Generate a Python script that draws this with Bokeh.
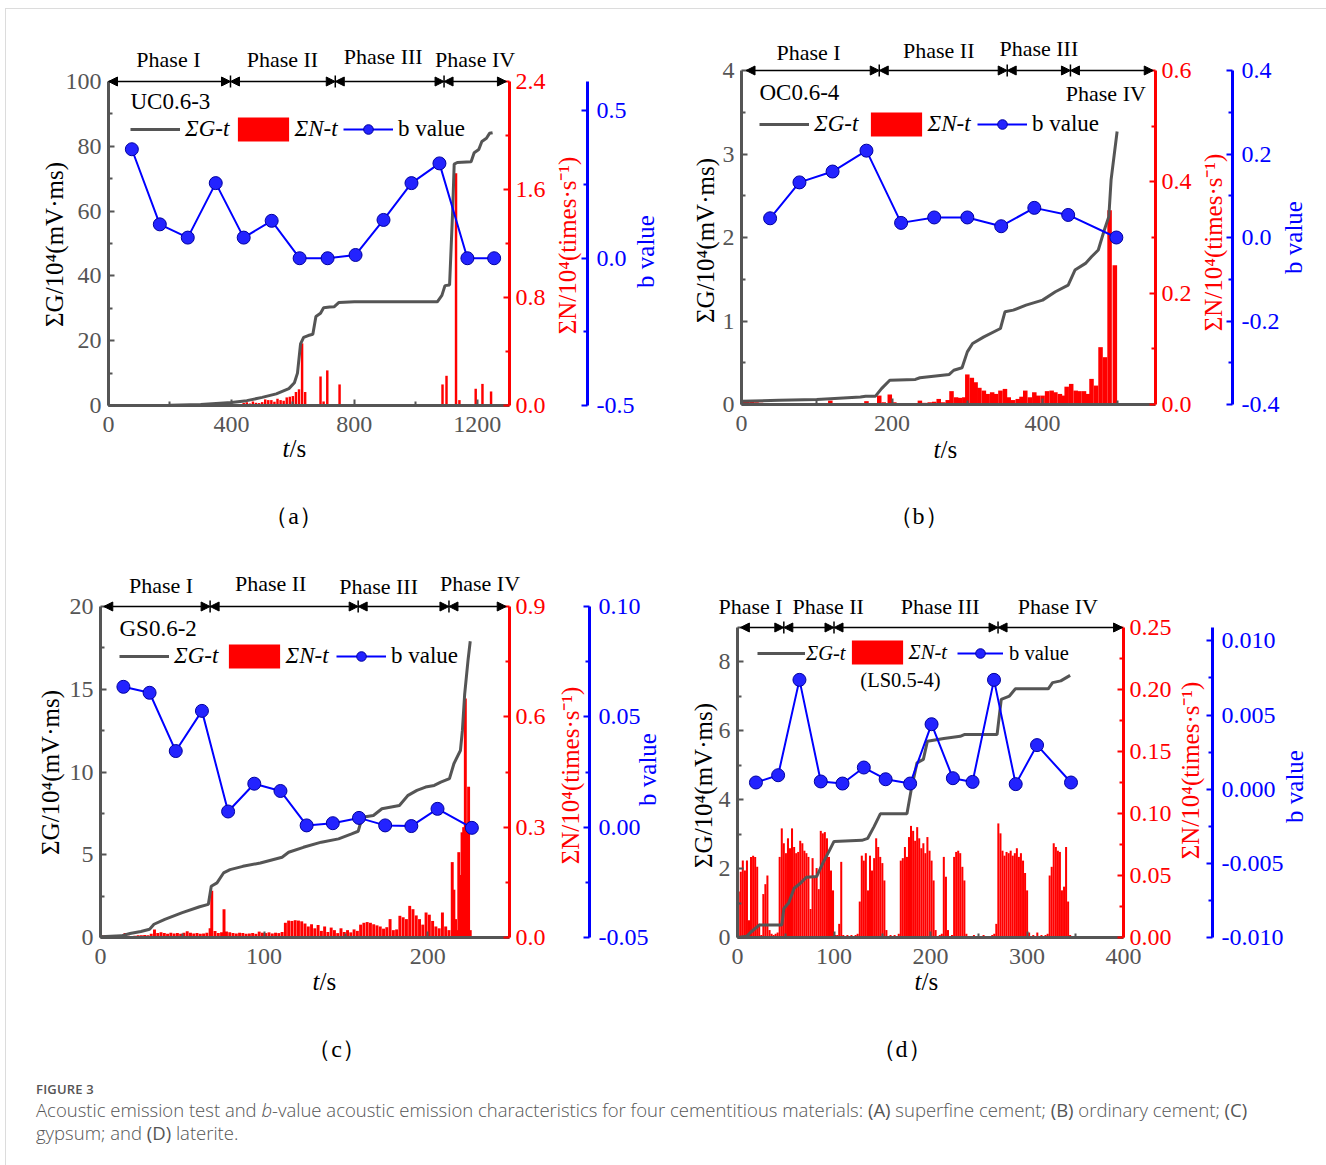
import math
from bokeh.plotting import figure
from bokeh.models import (Range1d, LinearAxis, FixedTicker, PrintfTickFormatter, Legend,
                          LegendItem, Label, Arrow, NormalHead, Whisker, ColumnDataSource, Div, Grid)
from bokeh.layouts import row, column
from bokeh.embed import file_html
from bokeh.resources import INLINE

SERIF = "Liberation Serif"
GRAY = "#555555"

phase_names = ["Phase I", "Phase II", "Phase III", "Phase IV"]

# ---------------- Panel (a) UC0.6-3 ----------------
ga_t = [0, 100, 200, 300, 400, 450, 500, 546, 587, 605, 615, 625, 635, 650, 665, 675, 690, 700, 720, 735,
        750, 800, 900, 1000, 1070, 1085, 1095, 1110, 1120, 1125, 1135, 1180, 1190, 1205, 1215, 1230, 1240, 1250]
ga_v = [0, 0, 0.1, 0.3, 0.9, 1.5, 2.5, 3.6, 5.2, 7, 10, 19, 21, 21.6, 22, 27.5, 28.5, 30.2, 30.4, 30.5,
        31.8, 32, 32, 32, 32, 34, 37, 37.2, 60, 74.5, 75, 75.2, 78, 79, 81.5, 82.5, 84, 84.2]
na_t = [280, 300, 320, 340, 360, 380, 400, 420, 440, 450, 460, 470, 480, 490, 500, 510, 520, 530, 540, 550,
        560, 570, 580, 590, 600, 610, 620, 630, 640, 690, 700, 712, 752, 1087, 1100, 1131, 1142, 1195, 1217, 1245]
na_v = [0.004, 0.006, 0.005, 0.008, 0.006, 0.01, 0.008, 0.012, 0.018, 0.025, 0.015, 0.03, 0.02, 0.018, 0.025,
        0.045, 0.04, 0.04, 0.028, 0.05, 0.04, 0.035, 0.06, 0.065, 0.07, 0.1, 0.12, 0.46, 0.1, 0.215, 0.03, 0.26,
        0.156, 0.156, 0.22, 1.72, 0.04, 0.124, 0.16, 0.104]
ba_t = [76, 167, 258, 349, 440, 531, 622, 713, 804, 895, 986, 1077, 1168, 1255]
ba_v = [0.37, 0.115, 0.07, 0.255, 0.07, 0.127, 0.0, 0.0, 0.011, 0.13, 0.255, 0.322, 0.0, 0.0]
pa_bounds = [0, 397, 738, 1092, 1295]
pa_label_x = [195, 566, 894, 1193]

# ---------------- Panel (b) OC0.6-4 ----------------
gb_t = [0, 50, 100, 118, 158, 165, 178, 186, 197, 231, 237, 276, 282, 293, 300, 307, 322, 344, 350, 361,
        378, 400, 417, 434, 443, 457, 465, 474, 482, 488, 491, 499]
gb_v = [0.04, 0.05, 0.06, 0.07, 0.09, 0.1, 0.1, 0.19, 0.29, 0.3, 0.32, 0.36, 0.41, 0.44, 0.63, 0.73, 0.81,
        0.91, 1.11, 1.13, 1.19, 1.25, 1.35, 1.43, 1.61, 1.69, 1.77, 1.85, 2.09, 2.25, 2.69, 3.27]
nb_t = [3, 8, 14, 20, 26, 40, 60, 80, 100, 118, 140, 166, 183, 189, 197, 203, 220, 237, 243, 250, 256, 262,
        268, 274, 279, 285, 290, 296, 300, 306, 311, 316, 322, 327, 333, 338, 344, 350, 355, 361, 367, 372,
        377, 383, 389, 394, 400, 406, 412, 417, 423, 428, 432, 438, 444, 449, 455, 460, 465, 471, 477, 483,
        489, 496]
nb_v = [0.006, 0.008, 0.005, 0.004, 0.003, 0.002, 0.002, 0.002, 0.002, 0.007, 0.002, 0.006, 0.016, 0.004,
        0.018, 0.004, 0.002, 0.007, 0.003, 0.004, 0.005, 0.01, 0.004, 0.008, 0.024, 0.013, 0.012, 0.013,
        0.054, 0.048, 0.04, 0.03, 0.025, 0.019, 0.022, 0.019, 0.025, 0.028, 0.013, 0.008, 0.01, 0.014, 0.025,
        0.013, 0.022, 0.016, 0.016, 0.024, 0.025, 0.022, 0.019, 0.016, 0.032, 0.037, 0.025, 0.024, 0.024,
        0.019, 0.046, 0.034, 0.103, 0.085, 0.349, 0.25]
bb_t = [38, 77, 121, 166, 212, 256, 300, 345, 389, 434, 498]
bb_v = [0.046, 0.132, 0.158, 0.208, 0.035, 0.048, 0.048, 0.027, 0.071, 0.054, 0.0]
pb_bounds = [6, 183, 353, 437, 547]
pb_label_x = [89, 262, 395, 484]

# ---------------- Panel (c) GS0.6-2 ----------------
gc_t = [0, 12.7, 18, 24.7, 30, 32.7, 39.3, 50, 60.6, 65.9, 67.7, 71.2, 75.2, 79.2, 87, 97.7, 111, 115, 124,
        135, 145.5, 153.5, 157.5, 160, 166.8, 172, 182.7, 188, 193.4, 198.7, 204, 208, 213.3, 216, 220, 221.2,
        222.6, 224.7, 226]
gc_v = [0.04, 0.1, 0.24, 0.36, 0.5, 0.8, 1.1, 1.5, 1.86, 2.0, 3.1, 3.3, 3.9, 4.1, 4.3, 4.5, 4.85, 5.15, 5.45,
        5.76, 5.96, 6.26, 6.42, 7.27, 7.37, 7.78, 7.98, 8.59, 8.89, 9.09, 9.19, 9.39, 9.6, 10.5, 11.3, 12.5,
        14.7, 16.8, 17.9]
nc_t = [1, 3, 5, 7, 9, 11, 13, 15, 17, 19, 21, 23, 25, 27, 29, 31, 33, 35, 37, 39, 41, 43, 45, 47, 49, 51, 53,
        55, 57, 59, 61, 63, 65, 67, 68, 70, 72, 74, 75.5, 77, 79, 81, 83, 85, 87, 89, 91, 93, 95, 97, 99, 101,
        103, 105, 107, 109, 111, 113, 115, 117, 119, 121, 123, 125, 127, 129, 131, 133, 135, 137, 139, 141,
        143, 145, 147, 149, 151, 153, 155, 157, 159, 161, 163, 165, 167, 169, 171, 173, 175, 177, 179, 181,
        183, 185, 187, 189, 191, 193, 195, 197, 199, 201, 203, 205, 207, 209, 211, 213, 215, 216, 217, 218,
        219, 220, 221, 222, 223, 224, 225, 226]
nc_v = [0.006, 0.006, 0.005, 0.006, 0.005, 0.006, 0.005, 0.012, 0.005, 0.004, 0.005, 0.006, 0.006, 0.007,
        0.006, 0.01, 0.022, 0.012, 0.014, 0.012, 0.01, 0.013, 0.011, 0.012, 0.01, 0.013, 0.017, 0.013, 0.011,
        0.012, 0.01, 0.011, 0.013, 0.025, 0.127, 0.018, 0.012, 0.014, 0.077, 0.016, 0.014, 0.012, 0.011,
        0.013, 0.012, 0.01, 0.011, 0.012, 0.01, 0.016, 0.013, 0.012, 0.014, 0.011, 0.013, 0.012, 0.015, 0.04,
        0.046, 0.045, 0.047, 0.046, 0.044, 0.038, 0.03, 0.036, 0.025, 0.034, 0.018, 0.03, 0.015, 0.027, 0.02,
        0.012, 0.025, 0.015, 0.02, 0.014, 0.022, 0.018, 0.035, 0.04, 0.042, 0.04, 0.036, 0.033, 0.03, 0.024,
        0.028, 0.05, 0.02, 0.022, 0.059, 0.055, 0.05, 0.086, 0.077, 0.06, 0.05, 0.035, 0.068, 0.062, 0.045,
        0.03, 0.025, 0.068, 0.03, 0.02, 0.205, 0.13, 0.05, 0.02, 0.232, 0.17, 0.286, 0.3, 0.65, 0.29, 0.41,
        0.02]
bc_t = [14, 30, 46, 62, 78, 94, 110, 126, 142, 158, 174, 190, 206, 227]
bc_v = [0.0636, 0.0609, 0.0345, 0.0527, 0.0071, 0.0197, 0.0164, 0.0008, 0.0018, 0.0042, 0.0008, 0.0005,
        0.0083, -0.0003]
pc_bounds = [2, 67, 157.5, 213, 248]
pc_label_x = [37, 104, 170, 232]

# ---------------- Panel (d) LS0.5-4 ----------------
gd_t = [0, 9.8, 14, 22.5, 45.9, 48, 53, 58.7, 65, 71.4, 82, 88.4, 94.8, 100, 128.8, 135, 141.5, 148, 175.6,
        180, 186, 192.6, 196.8, 213.8, 230.8, 235, 269, 273.3, 281.8, 288, 322, 326.5, 335, 344.7]
gd_v = [0, 0.04, 0.16, 0.36, 0.36, 0.84, 1.0, 1.43, 1.57, 1.75, 1.77, 2.16, 2.5, 2.79, 2.82, 2.88, 3.22, 3.59,
        3.59, 4.29, 5.07, 5.17, 5.7, 5.78, 5.84, 5.89, 5.89, 6.91, 7.01, 7.22, 7.22, 7.4, 7.45, 7.61]
nd_t = [1.3, 3.4, 5.5, 7.7, 9.8, 11.9, 14.0, 16.2, 18.3, 20.4, 22.5, 24.7, 26.8, 28.9, 31.0, 33.2, 35.3, 37.4,
        39.5, 41.6, 43.7, 45.9, 48.0, 50.2, 52.3, 54.4, 56.5, 58.7, 60.8, 62.9, 65.0, 67.2, 69.3, 71.4, 73.5,
        75.7, 77.8, 79.9, 82.0, 84.2, 86.3, 88.4, 90.5, 92.7, 94.8, 96.9, 99.0, 101.1, 103.3, 105.4, 107.5,
        109.6, 113.9, 118.1, 122.4, 124.5, 126.7, 128.8, 130.9, 133.0, 135.2, 137.3, 139.4, 141.6, 143.7,
        145.8, 147.9, 150.1, 152.2, 154.3, 158.6, 162.8, 167.1, 169.2, 171.3, 173.5, 175.6, 177.7, 179.8,
        182.0, 184.1, 186.2, 188.3, 190.5, 192.6, 194.7, 196.8, 199.0, 201.1, 203.2, 205.3, 209.6, 211.7,
        213.8, 216.0, 218.1, 222.3, 224.5, 226.6, 228.7, 230.8, 233.0, 235.1, 237.2, 245, 255, 264, 266.1,
        268.2, 270.3, 272.5, 274.6, 276.7, 278.8, 281.0, 283.1, 285.2, 287.4, 289.5, 291.6, 293.7, 295.9,
        298.0, 300.1, 302.2, 306.5, 310.7, 315.0, 319.2, 321.4, 323.5, 325.6, 327.7, 329.9, 332.0, 334.1,
        336.2, 338.4, 340.5, 342.6, 344.7]
nd_v = [0.037, 0.053, 0.062, 0.054, 0.062, 0.014, 0.065, 0.066, 0.065, 0.057, 0.011, 0.002, 0.035, 0.043,
        0.05, 0.006, 0.003, 0.002, 0.003, 0.004, 0.065, 0.088, 0.076, 0.068, 0.08, 0.072, 0.088, 0.073, 0.068,
        0.069, 0.078, 0.076, 0.07, 0.068, 0.065, 0.023, 0.064, 0.049, 0.056, 0.039, 0.086, 0.084, 0.085, 0.08,
        0.065, 0.054, 0.038, 0.002, 0.002, 0.011, 0.061, 0.002, 0.002, 0.002, 0.002, 0.003, 0.029, 0.066,
        0.062, 0.068, 0.038, 0.066, 0.054, 0.064, 0.08, 0.073, 0.065, 0.06, 0.046, 0.006, 0.002, 0.002, 0.003,
        0.062, 0.064, 0.073, 0.065, 0.081, 0.09, 0.086, 0.078, 0.089, 0.08, 0.072, 0.076, 0.068, 0.081, 0.07,
        0.062, 0.046, 0.006, 0.002, 0.003, 0.065, 0.049, 0.006, 0.002, 0.065, 0.069, 0.07, 0.068, 0.057,
        0.046, 0.003, 0.002, 0.002, 0.002, 0.003, 0.011, 0.092, 0.084, 0.07, 0.066, 0.069, 0.068, 0.07,
        0.066, 0.068, 0.072, 0.065, 0.068, 0.062, 0.052, 0.038, 0.004, 0.002, 0.004, 0.002, 0.002, 0.003,
        0.05, 0.057, 0.076, 0.073, 0.07, 0.069, 0.038, 0.041, 0.073, 0.029, 0.002]
bd_t = [19.1, 42.1, 64.2, 86.3, 108.8, 130.9, 153.5, 178.9, 201.1, 223.2, 243.6, 265.8, 288.3, 310.4, 345.6]
bd_v = [0.00045, 0.00094, 0.00737, 0.00052, 0.00038, 0.00146, 0.00067, 0.00038, 0.00438, 0.00074, 0.00049,
        0.00737, 0.00034, 0.00297, 0.00045]
pd_bounds = [3, 48, 100, 270, 399]
pd_label_x = [13.5, 94, 210, 332]


def style_axis(ax, color, lab_color, ticks, minor, fmt, standoff):
    ax.ticker = FixedTicker(ticks=ticks, minor_ticks=minor)
    ax.formatter = PrintfTickFormatter(format=fmt)
    ax.axis_line_color = color
    ax.axis_line_width = 3
    ax.major_tick_line_color = color
    ax.major_tick_line_width = 2
    ax.major_tick_in = 6
    ax.major_tick_out = 0
    ax.minor_tick_line_color = color
    ax.minor_tick_line_width = 2
    ax.minor_tick_in = 4
    ax.minor_tick_out = 0
    ax.major_label_text_color = lab_color
    ax.major_label_text_font = SERIF
    ax.major_label_text_font_size = "24px"
    ax.major_label_standoff = standoff


def make_panel(G_t, G_v, N_t, N_v, B_t, B_v, bounds, label_x, L):
    fx0, fy0, W, H = L["fig"]
    Lp, Rp, Bp, Tp = L["frame"]
    xmax, ymax, nmax = L["xmax"], L["ymax"], L["nmax"]
    bmin, bmax = L["brange"]

    def xr(d0, d1):
        k = (d1 - d0) / (Rp - Lp)
        return Range1d(d0 + (fx0 - Lp) * k, d0 + (fx0 + W - Lp) * k)

    def yr(d0, d1):
        k = (d1 - d0) / (Tp - Bp)
        return Range1d(d0 + (fy0 + H - Bp) * k, d0 + (fy0 - Bp) * k)

    def xd(px):
        return (px - Lp) * xmax / (Rp - Lp)

    def sx(px):
        return px - fx0

    def sy(py):
        return fy0 + H - py

    p = figure(frame_width=W, frame_height=H, x_range=xr(0, xmax), y_range=yr(0, ymax),
               min_border=0, x_axis_location=None, y_axis_location=None,
               output_backend="svg", toolbar_location=None,
               outline_line_color=None, background_fill_color=None, border_fill_color=None)
    p.extra_y_ranges = {"n": yr(0, nmax), "b": yr(bmin, bmax)}
    for r in list(p.center):
        if isinstance(r, Grid):
            r.visible = False
    p.xgrid.visible = False
    p.ygrid.visible = False

    ax_x = LinearAxis(fixed_location=0, bounds=(0, xmax))
    style_axis(ax_x, GRAY, GRAY, L["xticks"], L["xminor"], "%d", 11)
    p.add_layout(ax_x, "below")
    ax_y = LinearAxis(fixed_location=0, bounds=(0, ymax))
    style_axis(ax_y, GRAY, GRAY, L["yticks"], L["yminor"], "%d", 7)
    p.add_layout(ax_y, "left")
    ax_n = LinearAxis(y_range_name="n", fixed_location=xmax, bounds=(0, nmax))
    style_axis(ax_n, "red", "red", L["nticks"], L["nminor"], L["nfmt"], 6)
    p.add_layout(ax_n, "right")
    ax_b = LinearAxis(y_range_name="b", fixed_location=xd(L["blue_px"]), bounds=(bmin, bmax))
    style_axis(ax_b, "blue", "blue", L["bticks"], L["bminor"], L["bfmt"], 9)
    p.add_layout(ax_b, "right")

    bars = p.vbar(x=N_t, top=N_v, width=L["bar_w"], bottom=0, y_range_name="n",
                  fill_color="#ff0000", line_color=None)
    gline = p.line(G_t, G_v, line_color=GRAY, line_width=3)
    bline = p.line(B_t, B_v, y_range_name="b", line_color="#0000ff", line_width=2)
    bpts = p.scatter(B_t, B_v, y_range_name="b", marker="circle", size=13,
                     fill_color="#2323ff", line_color="#0000a0", line_width=1)

    def txt(x, y, text, color="black", size="25px", angle=0.0, align="center", style="normal"):
        p.add_layout(Label(x=x, y=y, x_units="screen", y_units="screen", text=text, angle=angle,
                           text_font=SERIF, text_font_size=size, text_align=align, text_font_style=style,
                           text_baseline="middle", text_color=color))

    yl, nl, bl, tl, tg = L["ylab"], L["nlab"], L["blab"], L["tlab"], L["tag"]
    txt(sx(yl[0]), sy(yl[1]), "ΣG/10⁴(mV·ms)", angle=math.pi / 2)
    txt(sx(nl[0]), sy(nl[1]), "ΣN/10⁴(times·s⁻¹)", color="red", angle=math.pi / 2)
    txt(sx(bl[0]), sy(bl[1]), "b value", color="blue", angle=math.pi / 2)
    txt(sx(tl[0]) - 4, sy(tl[1]), "t", align="right", style="italic")
    txt(sx(tl[0]) - 4, sy(tl[1]), "/s", align="left")
    txt(sx(tg[0]), sy(tg[1]), tg[2], size="24px")

    # legends, one per entry
    cy = L["leg_cy"]
    gx, nx, bx = L["leg_x"]
    gw, gso, bw, bso = L["leg_g"]
    fs = L["leg_fs"]
    specs = [("ΣG-t", [gline], "italic", gx, gw, 24, gso),
             ("ΣN-t", [bars], "italic", nx - 6.4, 64, 30, 0),
             ("b value", [bline, bpts], "normal", bx, bw, 24, bso)]
    for lab, rends, style, lx, gwid, gh, so in specs:
        hh = max(gh, 26) / 2.0
        lg = Legend(items=[LegendItem(label=lab, renderers=rends)], location=(sx(lx), sy(cy + hh)),
                    orientation="horizontal", padding=0, margin=0, border_line_color=None,
                    background_fill_alpha=0, glyph_width=gwid, glyph_height=gh, label_standoff=so,
                    label_height=24, label_text_font=SERIF, label_text_font_size=fs,
                    label_text_font_style=style, label_text_color="black")
        p.add_layout(lg)

    spx, spy, salign, stext = L["sample"]
    txt(sx(spx), sy(spy), stext, size=fs, align=salign)

    # phase arrows along the top edge
    top = ymax
    head = dict(size=9, fill_color="black", line_color="black")
    src = ColumnDataSource(dict(x0=bounds[:-1], x1=bounds[1:], y=[top] * (len(bounds) - 1)))
    p.add_layout(Arrow(start=NormalHead(**head), end=NormalHead(**head), x_start="x0", y_start="y",
                       x_end="x1", y_end="y", source=src, line_color="black", line_width=1.5))
    d = 6.0 * ymax / (Bp - Tp)
    wsrc = ColumnDataSource(dict(x=bounds[1:-1], lo=[top - d] * (len(bounds) - 2),
                                 hi=[top + d] * (len(bounds) - 2)))
    p.add_layout(Whisker(base="x", lower="lo", upper="hi", dimension="height", source=wsrc,
                         lower_head=None, upper_head=None, line_color="black", line_width=1.5))
    for name, lx, py in zip(phase_names, label_x, L["phase_y"]):
        p.add_layout(Label(x=lx, y=sy(py), y_units="screen", text=name, text_font=SERIF,
                           text_font_size="22px", text_align="center", text_baseline="middle",
                           text_color="black"))
    return p


La = dict(fig=(0, 0, 663, 535), frame=(108, 509, 405, 81), blue_px=587,
          xmax=1305, ymax=100, nmax=2.4, brange=(-0.5, 0.6),
          xticks=[0, 400, 800, 1200], xminor=[200, 600, 1000], yticks=[0, 20, 40, 60, 80, 100],
          yminor=[10, 30, 50, 70, 90], nticks=[0, 0.8, 1.6, 2.4], nminor=[0.4, 1.2, 2.0], nfmt="%.1f",
          bticks=[-0.5, 0, 0.5], bminor=[-0.25, 0.25], bfmt="%.1f", bar_w=8,
          ylab=(54, 244), nlab=(567, 245), blab=(645, 251), tlab=(293, 448), tag=(293, 515, "（a）"),
          phase_y=[59, 59, 56, 59], sample=(130, 101, "left", "UC0.6-3"),
          leg_x=(130, 237, 343), leg_cy=129, leg_g=(50, 5, 50, 5), leg_fs="23px")
Lb = dict(fig=(663, 0, 663, 535), frame=(741, 1155, 404, 70), blue_px=1232,
          xmax=550, ymax=4, nmax=0.6, brange=(-0.4, 0.4),
          xticks=[0, 200, 400], xminor=[100, 300, 500], yticks=[0, 1, 2, 3, 4], yminor=[0.5, 1.5, 2.5, 3.5],
          nticks=[0, 0.2, 0.4, 0.6], nminor=[0.1, 0.3, 0.5], nfmt="%.1f",
          bticks=[-0.4, -0.2, 0, 0.2, 0.4], bminor=[-0.3, -0.1, 0.1, 0.3], bfmt="%.1f", bar_w=6,
          ylab=(705, 240), nlab=(1213, 242), blab=(1293, 237), tlab=(944, 449), tag=(918, 515, "（b）"),
          phase_y=[52, 50, 48, 93], sample=(759, 92, "left", "OC0.6-4"),
          leg_x=(759, 870, 977), leg_cy=124, leg_g=(50, 5, 50, 5), leg_fs="23px")
Lc = dict(fig=(0, 535, 663, 535), frame=(100, 509, 937, 606), blue_px=589,
          xmax=250, ymax=20, nmax=0.9, brange=(-0.05, 0.10),
          xticks=[0, 100, 200], xminor=[50, 150], yticks=[0, 5, 10, 15, 20], yminor=[2.5, 7.5, 12.5, 17.5],
          nticks=[0, 0.3, 0.6, 0.9], nminor=[0.15, 0.45, 0.75], nfmt="%.1f",
          bticks=[-0.05, 0, 0.05, 0.10], bminor=[-0.025, 0.025, 0.075], bfmt="%.2f", bar_w=1.8,
          ylab=(50, 772), nlab=(570, 775), blab=(647, 769), tlab=(323, 981), tag=(336, 1048, "（c）"),
          phase_y=[585, 583, 586, 583], sample=(119, 628, "left", "GS0.6-2"),
          leg_x=(119, 228, 336), leg_cy=656, leg_g=(50, 5, 50, 5), leg_fs="23px")
Ld = dict(fig=(663, 535, 663, 535), frame=(737, 1123, 937, 627), blue_px=1212,
          xmax=400, ymax=9, nmax=0.25, brange=(-0.010, 0.0109),
          xticks=[0, 100, 200, 300, 400], xminor=[50, 150, 250, 350], yticks=[0, 2, 4, 6, 8], yminor=[1, 3, 5, 7, 9],
          nticks=[0, 0.05, 0.10, 0.15, 0.20, 0.25], nminor=[0.025, 0.075, 0.125, 0.175, 0.225], nfmt="%.2f",
          bticks=[-0.010, -0.005, 0, 0.005, 0.010], bminor=[-0.0075, -0.0025, 0.0025, 0.0075], bfmt="%.3f",
          bar_w=2.1,
          ylab=(703, 785), nlab=(1190, 770), blab=(1294, 786), tlab=(925, 981), tag=(901, 1048, "（d）"),
          phase_y=[606, 606, 606, 606], sample=(900, 679, "center", "(LS0.5-4)"),
          leg_x=(757, 851, 957), leg_cy=652, leg_g=(48, 1, 46, 6), leg_fs="20.5px")

pa = make_panel(ga_t, ga_v, na_t, na_v, ba_t, ba_v, pa_bounds, pa_label_x, La)
pb = make_panel(gb_t, gb_v, nb_t, nb_v, bb_t, bb_v, pb_bounds, pb_label_x, Lb)
pc = make_panel(gc_t, gc_v, nc_t, nc_v, bc_t, bc_v, pc_bounds, pc_label_x, Lc)
pd = make_panel(gd_t, gd_v, nd_t, nd_v, bd_t, bd_v, pd_bounds, pd_label_x, Ld)

caption_html = (
    '<div style="font-family:\'Open Sans\',sans-serif;color:#555;padding-left:31px;padding-top:5px;width:1250px">'
    '<div style="font-size:13px;font-weight:600;letter-spacing:0.2px;line-height:18px">FIGURE 3</div>'
    '<div style="font-size:18.5px;line-height:23px;font-weight:300">Acoustic emission test and <i>b</i>-value '
    'acoustic emission characteristics for four cementitious materials: <b>(A)</b> superfine cement; '
    '<b>(B)</b> ordinary cement; <b>(C)</b> gypsum; and <b>(D)</b> laterite.</div></div>'
)
caption = Div(text=caption_html, width=1326, height=95)

page_lines = {
    "background-color": "white",
    "background-image": "linear-gradient(#dcdcdc, #dcdcdc), linear-gradient(#dcdcdc, #dcdcdc)",
    "background-position": "5px 8px, 5px 8px",
    "background-size": "1px 100%, 100% 1px",
    "background-repeat": "no-repeat",
}
layout = column(row(pa, pb), row(pc, pd), caption, styles=page_lines)
open("out.html", "w").write(file_html(layout, INLINE, title="Figure 3"))
